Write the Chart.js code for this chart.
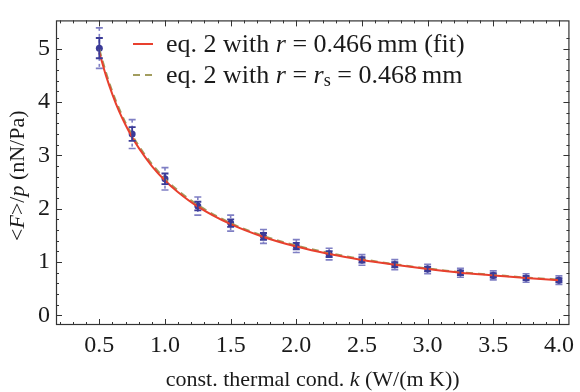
<!DOCTYPE html>
<html>
<head>
<meta charset="utf-8">
<script src="https://cdn.jsdelivr.net/npm/chart.js@4.4.1/dist/chart.umd.min.js"></script>
<style>
  html, body { margin: 0; padding: 0; background: #fff; }
  #wrap { width: 580px; height: 392px; position: relative; }
</style>
</head>
<body>
<div id="wrap"><canvas id="forceChart"></canvas></div>
<script>
// measured points (k in W/(m K), <F>/p in nN/Pa)
const kValues = [0.5, 0.75, 1.0, 1.25, 1.5, 1.75, 2.0, 2.25, 2.5, 2.75, 3.0, 3.25, 3.5, 3.75, 4.0];
const forceValues = [5.01, 3.40, 2.56, 2.05, 1.73, 1.48, 1.30, 1.15, 1.04, 0.95, 0.87, 0.80, 0.75, 0.70, 0.66];
const errInner = [0.19, 0.13, 0.10, 0.08, 0.07, 0.065, 0.06, 0.055, 0.05, 0.05, 0.045, 0.045, 0.04, 0.04, 0.04];
const errOuter = [0.38, 0.27, 0.21, 0.17, 0.15, 0.13, 0.12, 0.11, 0.10, 0.095, 0.09, 0.085, 0.085, 0.08, 0.08];

// model curves
const curveK = [0.5, 0.55, 0.6, 0.65, 0.7, 0.75, 0.8, 0.9, 1.0, 1.1, 1.25, 1.5, 1.75, 2.0, 2.25, 2.5, 2.75, 3.0, 3.25, 3.5, 3.75, 4.0];
const fitCurve = [4.93, 4.50, 4.14, 3.83, 3.57, 3.34, 3.14, 2.80, 2.53, 2.31, 2.04, 1.71, 1.47, 1.29, 1.15, 1.04, 0.95, 0.87, 0.80, 0.75, 0.70, 0.66];
const rsCurve = [4.99, 4.56, 4.19, 3.88, 3.61, 3.38, 3.18, 2.84, 2.56, 2.34, 2.07, 1.73, 1.49, 1.31, 1.17, 1.055, 0.96, 0.88, 0.81, 0.76, 0.71, 0.67];

const xTicks = [0.5, 1.0, 1.5, 2.0, 2.5, 3.0, 3.5, 4.0];
const yTicks = [0, 1, 2, 3, 4, 5];

const SERIF = '"Liberation Serif", "Times New Roman", serif';
const textColor = '#1a1a1a';
const frameColor = '#333';
const pointColor = '#3b3b98';
const outerColor = '#7f7fc4';
const fitColor = '#e8402e';
const rsColor = '#a29d5e';

function toXY(xs, ys) {
  return xs.map((x, i) => ({ x: x, y: ys[i] }));
}

// draw a run of text segments, each with its own style
function drawRich(ctx, parts, x, y, size) {
  let cx = x;
  parts.forEach(p => {
    const s = p.sub ? size * 0.7 : size;
    ctx.font = (p.italic ? 'italic ' : '') + s + 'px ' + SERIF;
    ctx.fillText(p.t, cx, y + (p.sub ? size * 0.22 : 0));
    cx += ctx.measureText(p.t).width;
  });
  return cx - x;
}

function richWidth(ctx, parts, size) {
  let w = 0;
  parts.forEach(p => {
    const s = p.sub ? size * 0.7 : size;
    ctx.font = (p.italic ? 'italic ' : '') + s + 'px ' + SERIF;
    w += ctx.measureText(p.t).width;
  });
  return w;
}

const errorBars = {
  id: 'errorBars',
  beforeDatasetsDraw(chart) {
    const ctx = chart.ctx;
    const xs = chart.scales.x, ys = chart.scales.y;
    ctx.save();
    kValues.forEach((k, i) => {
      const px = xs.getPixelForValue(k);
      const top = ys.getPixelForValue(forceValues[i] + errOuter[i]);
      const bot = ys.getPixelForValue(forceValues[i] - errOuter[i]);
      ctx.strokeStyle = outerColor;
      ctx.lineWidth = 1.6;
      ctx.setLineDash([3, 3]);
      ctx.beginPath();
      ctx.moveTo(px, top); ctx.lineTo(px, bot);
      ctx.stroke();
      ctx.setLineDash([]);
      ctx.beginPath();
      ctx.moveTo(px - 3.5, top); ctx.lineTo(px + 3.5, top);
      ctx.moveTo(px - 3.5, bot); ctx.lineTo(px + 3.5, bot);
      ctx.stroke();
    });
    ctx.restore();
  },
  afterDatasetsDraw(chart) {
    const ctx = chart.ctx;
    const xs = chart.scales.x, ys = chart.scales.y;
    ctx.save();
    ctx.strokeStyle = pointColor;
    ctx.lineWidth = 1.8;
    kValues.forEach((k, i) => {
      const px = xs.getPixelForValue(k);
      const top = ys.getPixelForValue(forceValues[i] + errInner[i]);
      const bot = ys.getPixelForValue(forceValues[i] - errInner[i]);
      ctx.beginPath();
      ctx.moveTo(px, top); ctx.lineTo(px, bot);
      ctx.moveTo(px - 3.5, top); ctx.lineTo(px + 3.5, top);
      ctx.moveTo(px - 3.5, bot); ctx.lineTo(px + 3.5, bot);
      ctx.stroke();
    });
    ctx.restore();
  }
};

const frameAndText = {
  id: 'frameAndText',
  afterDraw(chart) {
    const ctx = chart.ctx;
    const a = chart.chartArea;
    const xs = chart.scales.x, ys = chart.scales.y;
    ctx.save();
    // frame
    ctx.strokeStyle = frameColor;
    ctx.lineWidth = 1.2;
    ctx.strokeRect(a.left + 0.5, a.top + 0.5, a.right - a.left - 1, a.bottom - a.top - 1);

    // inward ticks, all four sides
    ctx.lineWidth = 1;
    ctx.beginPath();
    for (let v = 0.2; v <= 4.05; v += 0.1) {
      const val = Math.round(v * 10) / 10;
      const major = Math.abs(val * 2 - Math.round(val * 2)) < 1e-6;
      const len = major ? 6 : 3;
      const px = Math.round(xs.getPixelForValue(val)) + 0.5;
      ctx.moveTo(px, a.bottom); ctx.lineTo(px, a.bottom - len);
      ctx.moveTo(px, a.top); ctx.lineTo(px, a.top + len);
    }
    for (let v = 0; v <= 5.4; v += 0.2) {
      const val = Math.round(v * 10) / 10;
      const major = Math.abs(val - Math.round(val)) < 1e-6;
      const len = major ? 6 : 3;
      const py = Math.round(ys.getPixelForValue(val)) + 0.5;
      ctx.moveTo(a.left, py); ctx.lineTo(a.left + len, py);
      ctx.moveTo(a.right, py); ctx.lineTo(a.right - len, py);
    }
    ctx.stroke();

    // axis titles
    ctx.fillStyle = textColor;
    ctx.textBaseline = 'alphabetic';
    const xTitle = [
      { t: 'const. thermal cond. ' }, { t: 'k', italic: true }, { t: ' (W/(m K))' }
    ];
    const xw = richWidth(ctx, xTitle, 22);
    drawRich(ctx, xTitle, (a.left + a.right) / 2 - xw / 2, 386, 22);

    const yTitle = [
      { t: '<' }, { t: 'F', italic: true }, { t: '>/' }, { t: 'p', italic: true }, { t: ' (nN/Pa)' }
    ];
    const yw = richWidth(ctx, yTitle, 22);
    ctx.translate(24, (a.top + a.bottom) / 2 + 3);
    ctx.rotate(-Math.PI / 2);
    drawRich(ctx, yTitle, -yw / 2, 0, 22);
    ctx.setTransform(1, 0, 0, 1, 0, 0);

    // legend
    ctx.lineWidth = 2;
    ctx.strokeStyle = fitColor;
    ctx.beginPath();
    ctx.moveTo(133, 44); ctx.lineTo(153, 44);
    ctx.stroke();
    ctx.strokeStyle = rsColor;
    ctx.setLineDash([7, 5]);
    ctx.beginPath();
    ctx.moveTo(133, 75); ctx.lineTo(155, 75);
    ctx.stroke();
    ctx.setLineDash([]);
    ctx.textBaseline = 'middle';
    drawRich(ctx, [
      { t: 'eq. 2 with ' }, { t: 'r', italic: true }, { t: ' = 0.466\u2009mm (fit)' }
    ], 166, 45, 26);
    drawRich(ctx, [
      { t: 'eq. 2 with ' }, { t: 'r', italic: true }, { t: ' = ' }, { t: 'r', italic: true },
      { t: 's', sub: true }, { t: ' = 0.468\u2009mm' }
    ], 166, 76, 26);
    ctx.restore();
  }
};

new Chart(document.getElementById('forceChart'), {
  type: 'line',
  data: {
    datasets: [
      {
        label: 'fit',
        data: toXY(curveK, fitCurve),
        borderColor: fitColor,
        borderWidth: 2,
        pointRadius: 0,
        cubicInterpolationMode: 'monotone',
        fill: false
      },
      {
        label: 'rs',
        data: toXY(curveK, rsCurve),
        borderColor: rsColor,
        borderWidth: 2,
        borderDash: [7, 5],
        pointRadius: 0,
        cubicInterpolationMode: 'monotone',
        fill: false
      },
      {
        label: 'data',
        data: toXY(kValues, forceValues),
        showLine: false,
        pointRadius: 3.5,
        pointBackgroundColor: pointColor,
        pointBorderColor: pointColor,
        pointBorderWidth: 0
      }
    ]
  },
  options: {
    responsive: true,
    maintainAspectRatio: false,
    animation: false,
    layout: { padding: { top: 3, right: 3, left: 0, bottom: 0 } },
    plugins: { legend: { display: false }, tooltip: { enabled: false } },
    scales: {
      x: {
        type: 'linear',
        min: 0.17,
        max: 4.08,
        afterBuildTicks: axis => { axis.ticks = xTicks.map(v => ({ value: v })); },
        afterFit: axis => { axis.height = 67; },
        grid: { display: false, drawTicks: false },
        border: { display: false },
        ticks: {
          padding: 6,
          color: textColor,
          font: { family: SERIF, size: 24 },
          callback: v => v.toFixed(1),
          maxRotation: 0,
          autoSkip: false
        }
      },
      y: {
        type: 'linear',
        min: -0.18,
        max: 5.53,
        afterBuildTicks: axis => { axis.ticks = yTicks.map(v => ({ value: v })); },
        afterFit: axis => { axis.width = 56; },
        grid: { display: false, drawTicks: false },
        border: { display: false },
        ticks: {
          padding: 6,
          color: textColor,
          font: { family: SERIF, size: 24 }
        }
      }
    }
  },
  plugins: [errorBars, frameAndText]
});
</script>
</body>
</html>
